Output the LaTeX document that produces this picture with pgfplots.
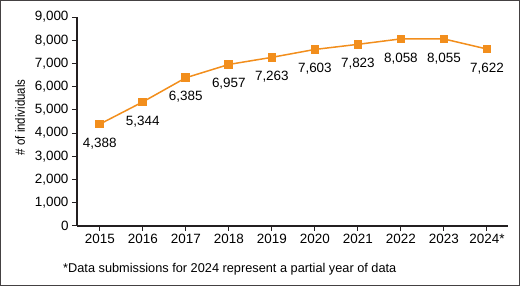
\documentclass[border=0pt]{standalone}
\usepackage{pgfplots}
\pgfplotsset{compat=1.18}
\usepackage{fontspec}
\setmainfont{Liberation Sans}
\newfontfamily\condfont[FakeStretch=0.85]{Liberation Sans}
\definecolor{lineorange}{RGB}{242,142,28}
\definecolor{axisgray}{RGB}{35,31,32}
\begin{document}
\begin{tikzpicture}
\useasboundingbox (0,0) rectangle (520bp,286bp);
\draw[axisgray!85, line width=1.2bp] (0.6bp,0.6bp) rectangle (519.4bp,285.4bp);
\begin{axis}[
  at={(77bp,60bp)}, anchor=south west,
  scale only axis, width=431bp, height=209bp,
  xmin=-0.53, xmax=9.49, ymin=0, ymax=9000,
  axis x line*=bottom, axis y line*=left,
  xtick={0,...,9},
  xticklabels={2015,2016,2017,2018,2019,2020,2021,2022,2023,2024*},
  ytick={0,1000,...,9000},
  tick align=outside, major tick length=5bp,
  tick style={axisgray, line width=1bp},
  axis line style={axisgray, line width=1.2bp},
  ticklabel style={font=\fontsize{13.5}{15}\selectfont},
  /pgf/number format/.cd, 1000 sep={,}, assume math mode=true, /pgfplots/.cd,
  ylabel={\# of individuals},
  every axis y label/.style={at={(axis description cs:-0.132,0.52)}, rotate=90, anchor=center, font=\condfont\fontsize{13.5}{15}\selectfont},
  clip=false,
  nodes near coords,
  every node near coord/.append style={anchor=north, yshift=-13bp, inner sep=0pt, font=\fontsize{13.5}{15}\selectfont, text=black},
]
\addplot[color=lineorange, line width=1.5bp, mark=square*, mark size=3.6bp, mark options={fill=lineorange, draw=lineorange}]
coordinates {(0,4388) (1,5344) (2,6385) (3,6957) (4,7263) (5,7603) (6,7823) (7,8058) (8,8055) (9,7622)};
\end{axis}
\node[anchor=base west, font=\fontsize{12.8}{14}\selectfont, inner sep=0pt] at (63bp,14bp) {*Data submissions for 2024 represent a partial year of data};
\end{tikzpicture}
\end{document}
